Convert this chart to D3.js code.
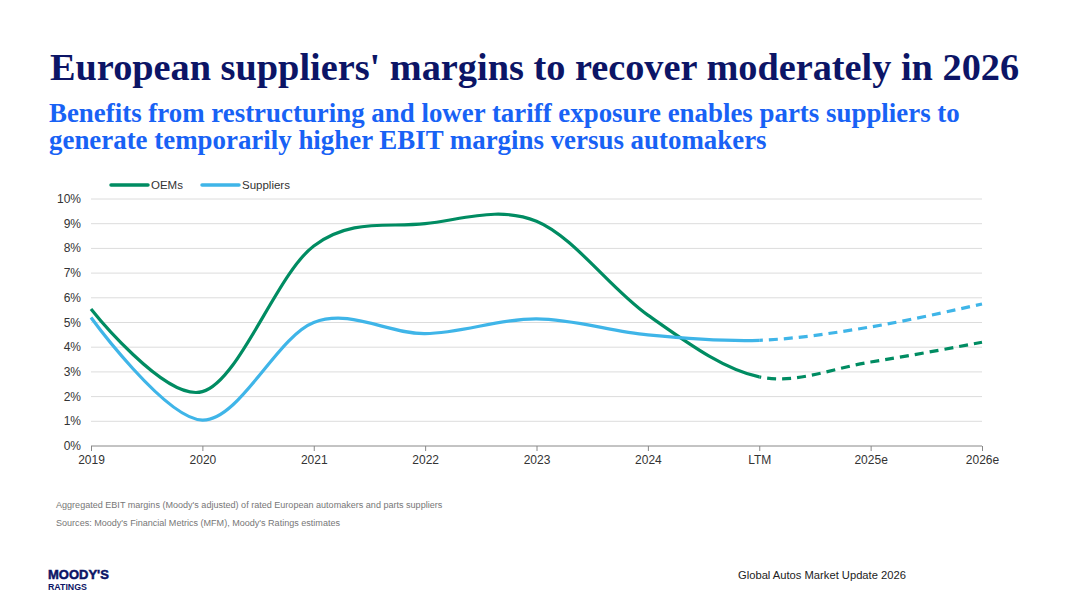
<!DOCTYPE html>
<html>
<head>
<meta charset="utf-8">
<script src="https://cdn.jsdelivr.net/npm/d3@7"></script>
<style>
  body { margin: 0; background: #fff; }
  svg { display: block; }
</style>
</head>
<body>
<svg id="chart" width="1080" height="607"></svg>
<script>
// chart data
var categories = ["2019", "2020", "2021", "2022", "2023", "2024", "LTM", "2025e", "2026e"];
var oems = [5.55, 2.2, 8.1, 9.0, 9.1, 5.3, 2.8, 3.4, 4.2];
var suppliers = [5.2, 1.05, 5.0, 4.55, 5.15, 4.5, 4.28, 4.82, 5.75];
var yTicks = [0, 1, 2, 3, 4, 5, 6, 7, 8, 9, 10];
var forecastFrom = "LTM";

(function(){
var svg = d3.select("#chart");
var serif = "'Liberation Serif', 'Times New Roman', serif";
var sans = "'Liberation Sans', Arial, sans-serif";

// titles
svg.append("text").attr("x", 50).attr("y", 80)
    .style("font-family", serif)
    .style("font-weight", "bold").style("font-size", "38.3px")
    .attr("fill", "#0c1566")
    .text("European suppliers' margins to recover moderately in 2026");

var sub = ["Benefits from restructuring and lower tariff exposure enables parts suppliers to",
           "generate temporarily higher EBIT margins versus automakers"];
sub.forEach(function(s, i){
    svg.append("text").attr("x", 49).attr("y", 122 + i * 27)
        .style("font-family", serif)
        .style("font-weight", "bold").style("font-size", "26.9px")
        .attr("fill", "#1862f5")
        .text(s);
});

// plot area
var pLeft = 91, pRight = 982, pTop = 199, pBottom = 446;
var x = d3.scalePoint().domain(categories).range([pLeft, pRight]);
var y = d3.scaleLinear().domain([0, 10]).range([pBottom, pTop]);

var g = svg.append("g");

// gridlines
g.selectAll(".grid").data(yTicks.filter(function(d){ return d > 0; })).enter()
    .append("line")
    .attr("x1", pLeft).attr("x2", pRight)
    .attr("y1", function(d){ return y(d); }).attr("y2", function(d){ return y(d); })
    .attr("stroke", "#dcdcdc").attr("stroke-width", 1);

// y labels
g.selectAll(".ylab").data(yTicks).enter()
    .append("text")
    .attr("x", 81).attr("y", function(d){ return y(d) + 4; })
    .attr("text-anchor", "end")
    .style("font-family", sans).style("font-size", "12px")
    .attr("fill", "#333")
    .text(function(d){ return d + "%"; });

// x axis
var xAxis = d3.axisBottom(x).tickSize(5).tickPadding(4);
var ax = svg.append("g").attr("transform", "translate(0," + pBottom + ")").call(xAxis);
ax.select(".domain").attr("stroke", "#888").attr("d", "M" + pLeft + ",0H" + pRight);
ax.selectAll(".tick line").attr("stroke", "#888");
ax.selectAll(".tick text").style("font-family", sans).style("font-size", "12px").attr("fill", "#333");

// lines: solid up to LTM, dashed after, same curve clipped
var split = x(forecastFrom);
var defs = svg.append("defs");
defs.append("clipPath").attr("id", "clipSolid").append("rect")
    .attr("x", 0).attr("y", 0).attr("width", split).attr("height", 607);
defs.append("clipPath").attr("id", "clipDash").append("rect")
    .attr("x", split).attr("y", 0).attr("width", 1080 - split).attr("height", 607);

var line = d3.line()
    .x(function(d, i){ return x(categories[i]); })
    .y(function(d){ return y(d); })
    .curve(d3.curveCardinal.tension(0));

var series = [
    {name: "OEMs", values: oems, color: "#008c62"},
    {name: "Suppliers", values: suppliers, color: "#3fb5e8"}
];

series.forEach(function(s){
    g.append("path").attr("d", line(s.values))
        .attr("fill", "none").attr("stroke", s.color).attr("stroke-width", 3.2)
        .attr("clip-path", "url(#clipSolid)");
    g.append("path").attr("d", line(s.values))
        .attr("fill", "none").attr("stroke", s.color).attr("stroke-width", 3.2)
        .attr("stroke-dasharray", "9,6")
        .attr("clip-path", "url(#clipDash)");
});

// legend
var legX = [111, 202];
series.forEach(function(s, i){
    svg.append("line").attr("x1", legX[i]).attr("x2", legX[i] + 37)
        .attr("y1", 185).attr("y2", 185)
        .attr("stroke", s.color).attr("stroke-width", 3.5).attr("stroke-linecap", "round");
    svg.append("text").attr("x", legX[i] + 40).attr("y", 189)
        .style("font-family", sans).style("font-size", "11.5px")
        .attr("fill", "#333").text(s.name);
});

// notes
var notes = ["Aggregated EBIT margins (Moody's adjusted) of rated European automakers and parts suppliers",
             "Sources: Moody's Financial Metrics (MFM), Moody's Ratings estimates"];
notes.forEach(function(n, i){
    svg.append("text").attr("x", 56).attr("y", 508 + i * 18)
        .style("font-family", sans).style("font-size", "9.05px")
        .attr("fill", "#777").text(n);
});

// logo
svg.append("text").attr("x", 48).attr("y", 579)
    .style("font-family", sans).style("font-weight", "900").style("font-size", "13px")
    .style("stroke", "#0c1566").style("stroke-width", "0.5px")
    .attr("fill", "#0c1566").text("MOODY'S");
svg.append("text").attr("x", 48).attr("y", 590)
    .style("font-family", sans).style("font-weight", "bold").style("font-size", "8.8px")
    .attr("fill", "#0c1566").text("RATINGS");

// footer
svg.append("text").attr("x", 738).attr("y", 579)
    .style("font-family", sans).style("font-size", "11.2px")
    .attr("fill", "#222").text("Global Autos Market Update 2026");
})();
</script>
</body>
</html>
